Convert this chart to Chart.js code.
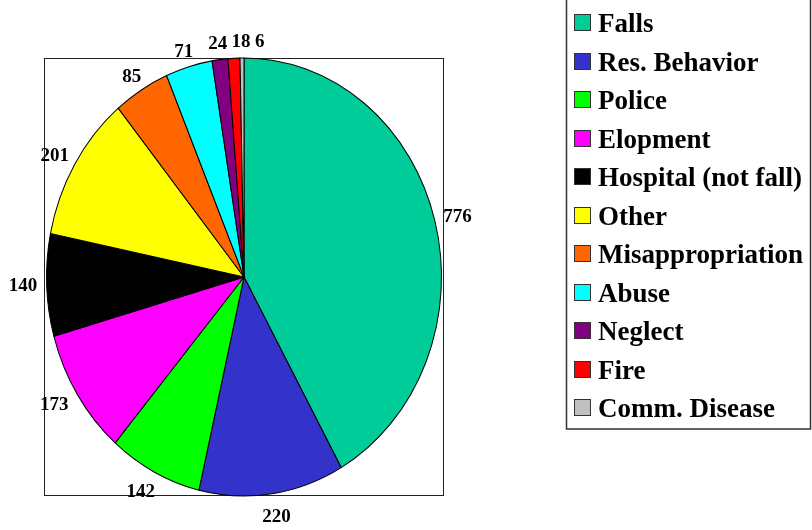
<!DOCTYPE html>
<html>
<head>
<meta charset="utf-8">
<script src="https://cdn.jsdelivr.net/npm/chart.js@4/dist/chart.umd.min.js"></script>
<style>
  html, body { margin: 0; padding: 0; background: #fff; }
  canvas { display: block; }
</style>
</head>
<body>
<canvas id="pie" width="812" height="530"></canvas>
<script>
// Incident categories, clockwise from 12 o'clock
const categories = [
  'Falls', 'Res. Behavior', 'Police', 'Elopment', 'Hospital (not fall)',
  'Other', 'Misappropriation', 'Abuse', 'Neglect', 'Fire', 'Comm. Disease'
];
const counts = [776, 220, 142, 173, 140, 201, 85, 71, 24, 18, 6];
const sliceColors = [
  '#00CC99', '#3333CC', '#00FF00', '#FF00FF', '#000000',
  '#FFFF00', '#FF6600', '#00FFFF', '#800080', '#FF0000', '#C0C0C0'
];

const SERIF = '"Liberation Serif", "Times New Roman", serif';
const LABEL_FONT = 'bold 19px ' + SERIF;
const LEGEND_FONT = 'bold 27px ' + SERIF;

// Vertical stretch that turns the round pie into the tall ellipse filling the plot box
function stretchOf(chart) {
  const arc = chart.getDatasetMeta(0).data[0];
  return (chart.chartArea.height / 2) / arc.outerRadius;
}

const ellipsePie = {
  id: 'ellipsePie',
  beforeDatasetsDraw(chart) {
    const { ctx, chartArea } = chart;
    // plot-area frame
    ctx.save();
    ctx.strokeStyle = '#222';
    ctx.lineWidth = 1;
    ctx.strokeRect(Math.round(chartArea.left) - 1.5, Math.round(chartArea.top) + 0.5,
                   Math.round(chartArea.width) + 3, Math.round(chartArea.height) - 1);
    ctx.restore();

    const arc = chart.getDatasetMeta(0).data[0];
    const sy = stretchOf(chart);
    ctx.save();
    ctx.translate(arc.x, arc.y);
    ctx.scale(1, sy);
    ctx.translate(-arc.x, -arc.y);
  },
  afterDatasetsDraw(chart) {
    chart.ctx.restore();
  }
};

// Value labels just outside each slice; a label that would overlap an
// earlier one slides along the rim in the clockwise direction.
const sliceLabels = {
  id: 'sliceLabels',
  afterDatasetsDraw(chart) {
    const { ctx } = chart;
    const meta = chart.getDatasetMeta(0);
    const sy = stretchOf(chart);
    const pad = 4;
    ctx.save();
    ctx.font = LABEL_FONT;
    ctx.fillStyle = '#000';
    ctx.textAlign = 'center';
    ctx.textBaseline = 'middle';
    const placed = [];
    meta.data.forEach((arc, i) => {
      const mid = (arc.startAngle + arc.endAngle) / 2;
      const ux = Math.cos(mid), uy = Math.sin(mid);
      const px = arc.x + arc.outerRadius * ux;
      const py = arc.y + arc.outerRadius * sy * uy;
      const text = String(counts[i]);
      const w = ctx.measureText(text).width;
      const h = 13;
      const gap = 9 + 8 * Math.max(0, uy);
      let cx = px + ux * (gap + w / 2);
      let cy = py + uy * (gap + h / 2);
      const tx = -uy, ty = ux;
      let box;
      for (let k = 0; k < 80; k++) {
        box = { x0: cx - w / 2, x1: cx + w / 2, y0: cy - h / 2, y1: cy + h / 2 };
        const hit = placed.some(b => box.x0 < b.x1 + pad && box.x1 + pad > b.x0 &&
                                     box.y0 < b.y1 && box.y1 > b.y0);
        if (!hit) break;
        cx += tx; cy += ty;
      }
      placed.push(box);
      ctx.fillText(text, cx, cy);
    });
    ctx.restore();
  }
};

// Boxed legend on the right
const boxedLegend = {
  id: 'boxedLegend',
  afterDraw(chart) {
    const { ctx } = chart;
    const left = 566, top = -1, right = 810, bottom = 429;
    const rowTop = 23, rowStep = 38.5;
    ctx.save();
    ctx.strokeStyle = '#333';
    ctx.lineWidth = 1.5;
    ctx.strokeRect(left + 0.5, top, right - left, bottom - top);
    ctx.font = LEGEND_FONT;
    ctx.textAlign = 'left';
    ctx.textBaseline = 'alphabetic';
    categories.forEach((name, i) => {
      const cy = rowTop + i * rowStep;
      ctx.fillStyle = sliceColors[i];
      ctx.fillRect(575, Math.round(cy - 8), 15, 15);
      ctx.strokeStyle = '#333';
      ctx.lineWidth = 1;
      ctx.strokeRect(574.5, Math.round(cy - 8) - 0.5, 16, 16);
      ctx.fillStyle = '#000';
      ctx.fillText(name, 598, cy + 9);
    });
    ctx.restore();
  }
};

function drawChart() {
  new Chart(document.getElementById('pie'), {
    type: 'pie',
    data: {
      labels: categories,
      datasets: [{
        data: counts,
        backgroundColor: sliceColors,
        borderColor: '#000',
        borderWidth: 1,
        hoverOffset: 0
      }]
    },
    options: {
      responsive: false,
      animation: false,
      layout: { padding: { left: 46, right: 370, top: 58, bottom: 34 } },
      plugins: {
        legend: { display: false },
        tooltip: { enabled: false }
      }
    },
    plugins: [ellipsePie, sliceLabels, boxedLegend]
  });
}

Promise.all([
  document.fonts.load(LABEL_FONT, '0123456789'),
  document.fonts.load(LEGEND_FONT, 'Falls Hospital')
]).then(drawChart, drawChart);
</script>
</body>
</html>
